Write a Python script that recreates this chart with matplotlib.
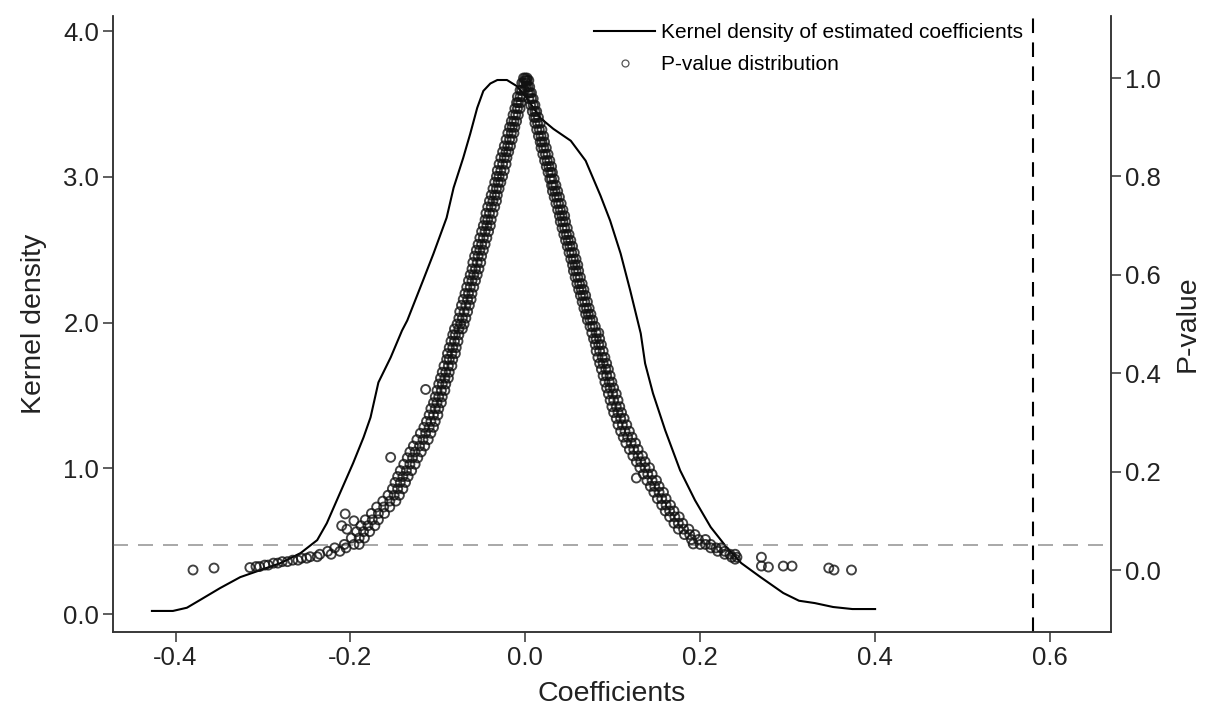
import numpy as np
import matplotlib.pyplot as plt
from matplotlib.lines import Line2D

plt.rcParams['font.family'] = ['Liberation Sans', 'DejaVu Sans']

# kernel density of the estimated coefficients (left axis)
kd_x = [-0.427, -0.403, -0.387, -0.372, -0.349, -0.326, -0.303, -0.280, -0.257, -0.238,
        -0.227, -0.212, -0.197, -0.185, -0.177, -0.168, -0.154, -0.141, -0.135, -0.117,
        -0.105, -0.090, -0.082, -0.071, -0.063, -0.055, -0.048, -0.040, -0.032, -0.021,
        -0.010, 0.000, 0.017, 0.032, 0.052, 0.069, 0.086, 0.097, 0.109, 0.120,
        0.132, 0.137, 0.146, 0.160, 0.177, 0.194, 0.212, 0.230, 0.247, 0.269,
        0.295, 0.313, 0.331, 0.352, 0.374, 0.400]
kd_y = [0.021, 0.021, 0.043, 0.096, 0.178, 0.253, 0.301, 0.349, 0.418, 0.507,
        0.623, 0.829, 1.034, 1.212, 1.349, 1.589, 1.760, 1.945, 2.014, 2.288,
        2.473, 2.719, 2.925, 3.130, 3.295, 3.473, 3.589, 3.640, 3.664, 3.664,
        3.623, 3.555, 3.404, 3.329, 3.247, 3.110, 2.870, 2.699, 2.473, 2.219,
        1.925, 1.719, 1.514, 1.260, 0.986, 0.781, 0.596, 0.459, 0.349, 0.253,
        0.144, 0.091, 0.075, 0.048, 0.034, 0.034]

# p-values, rows are (p, coef, coef, ...)
left_rows = [
    (1.000, -0.002, 0.000, 0.002), (0.990, -0.004, -0.002, 0.001), (0.975, -0.006, -0.004, -0.001),
    (0.962, -0.009, -0.006, -0.003), (0.950, -0.010, -0.008, -0.005), (0.938, -0.012, -0.009, -0.006),
    (0.925, -0.014, -0.011, -0.008), (0.912, -0.016, -0.013, -0.010), (0.900, -0.018, -0.015, -0.012),
    (0.888, -0.020, -0.016, -0.013), (0.875, -0.022, -0.018, -0.015), (0.862, -0.024, -0.020, -0.017),
    (0.850, -0.026, -0.022, -0.019), (0.838, -0.028, -0.024, -0.021), (0.825, -0.030, -0.026, -0.022),
    (0.812, -0.032, -0.028, -0.024), (0.800, -0.033, -0.030, -0.026), (0.788, -0.035, -0.031, -0.028),
    (0.775, -0.037, -0.033, -0.030), (0.762, -0.039, -0.035, -0.032), (0.750, -0.041, -0.037, -0.033),
    (0.738, -0.043, -0.039, -0.035), (0.725, -0.045, -0.041, -0.037), (0.712, -0.046, -0.043, -0.039),
    (0.700, -0.048, -0.044, -0.040), (0.688, -0.050, -0.046, -0.042), (0.675, -0.052, -0.048, -0.044),
    (0.662, -0.054, -0.050, -0.046), (0.650, -0.056, -0.052, -0.048), (0.638, -0.058, -0.054, -0.050),
    (0.625, -0.060, -0.055, -0.051), (0.612, -0.061, -0.057, -0.053), (0.600, -0.063, -0.059, -0.055),
    (0.588, -0.065, -0.061, -0.057), (0.575, -0.067, -0.063, -0.059), (0.562, -0.069, -0.065, -0.061),
    (0.550, -0.071, -0.066, -0.062), (0.538, -0.073, -0.068, -0.064), (0.525, -0.075, -0.070, -0.066),
    (0.512, -0.076, -0.072, -0.068), (0.500, -0.078, -0.074, -0.070),
    (0.490, -0.081, -0.076, -0.072), (0.478, -0.083, -0.080, -0.076), (0.465, -0.085, -0.081, -0.077),
    (0.452, -0.087, -0.083, -0.079), (0.440, -0.089, -0.084, -0.080), (0.428, -0.090, -0.087, -0.083),
    (0.415, -0.093, -0.088, -0.084), (0.402, -0.095, -0.091, -0.087), (0.390, -0.097, -0.092, -0.088),
    (0.378, -0.099, -0.095, -0.091), (0.365, -0.101, -0.096, -0.092), (0.352, -0.103, -0.099, -0.095),
    (0.340, -0.105, -0.101, -0.096), (0.328, -0.108, -0.103, -0.099), (0.315, -0.110, -0.105, -0.100),
    (0.302, -0.113, -0.108, -0.103), (0.290, -0.116, -0.110, -0.105), (0.278, -0.120, -0.114, -0.108),
    (0.265, -0.124, -0.117, -0.111), (0.252, -0.128, -0.121, -0.115), (0.240, -0.132, -0.126, -0.119),
    (0.228, -0.135, -0.129, -0.123), (0.215, -0.139, -0.132, -0.126), (0.202, -0.143, -0.136, -0.130),
    (0.190, -0.146, -0.140, -0.134), (0.178, -0.149, -0.143, -0.137), (0.165, -0.152, -0.146, -0.140),
    (0.152, -0.157, -0.150, -0.144), (0.140, -0.163, -0.155, -0.148), (0.128, -0.170, -0.162, -0.155),
    (0.115, -0.176, -0.168, -0.161), (0.102, -0.183, -0.175, -0.168), (0.090, -0.188, -0.180, -0.172),
    (0.078, -0.193, -0.185, -0.178), (0.065, -0.199, -0.190, -0.184), (0.052, -0.207, -0.196, -0.190),
    (0.045, -0.218, -0.205), (0.038, -0.226, -0.212), (0.032, -0.235, -0.222),
    (0.027, -0.246, -0.238), (0.024, -0.256, -0.250), (0.020, -0.266, -0.260),
    (0.017, -0.278, -0.272), (0.014, -0.288, -0.283), (0.010, -0.298, -0.294),
    (0.007, -0.308, -0.304), (0.005, -0.315),
    (0.367, -0.114), (0.229, -0.154), (0.114, -0.206), (0.090, -0.210),
    (0.083, -0.204), (0.100, -0.196),
]
right_rows = [
    (0.995, 0.000, 0.002, 0.004), (0.982, 0.001, 0.003, 0.005), (0.970, 0.003, 0.005, 0.007),
    (0.958, 0.004, 0.007, 0.009), (0.945, 0.006, 0.009, 0.011), (0.932, 0.008, 0.011, 0.013),
    (0.920, 0.010, 0.012, 0.015), (0.908, 0.011, 0.014, 0.017), (0.895, 0.013, 0.016, 0.019),
    (0.882, 0.015, 0.018, 0.021), (0.870, 0.017, 0.019, 0.022), (0.858, 0.018, 0.021, 0.024),
    (0.845, 0.020, 0.023, 0.026), (0.832, 0.022, 0.025, 0.028), (0.820, 0.024, 0.027, 0.030),
    (0.808, 0.026, 0.029, 0.031), (0.795, 0.028, 0.030, 0.033), (0.782, 0.030, 0.032, 0.035),
    (0.770, 0.031, 0.034, 0.037), (0.758, 0.033, 0.036, 0.039), (0.745, 0.035, 0.038, 0.041),
    (0.732, 0.037, 0.040, 0.043), (0.720, 0.039, 0.042, 0.045), (0.708, 0.040, 0.043, 0.046),
    (0.695, 0.042, 0.045, 0.048), (0.682, 0.044, 0.047, 0.050), (0.670, 0.046, 0.049, 0.052),
    (0.658, 0.048, 0.051, 0.054), (0.645, 0.050, 0.053, 0.056), (0.632, 0.052, 0.055, 0.058),
    (0.620, 0.054, 0.057, 0.060), (0.608, 0.055, 0.058, 0.061), (0.595, 0.057, 0.060, 0.063),
    (0.582, 0.059, 0.062, 0.065), (0.570, 0.061, 0.064, 0.067), (0.558, 0.063, 0.066, 0.069),
    (0.545, 0.065, 0.068, 0.071), (0.532, 0.067, 0.070, 0.073), (0.520, 0.069, 0.072, 0.075),
    (0.508, 0.071, 0.074, 0.077),
    (0.495, 0.074, 0.077, 0.080), (0.482, 0.076, 0.081, 0.084), (0.470, 0.078, 0.081, 0.085),
    (0.458, 0.080, 0.084, 0.087), (0.445, 0.081, 0.085, 0.089), (0.432, 0.083, 0.088, 0.091),
    (0.420, 0.085, 0.089, 0.093), (0.408, 0.087, 0.092, 0.095), (0.395, 0.089, 0.093, 0.097),
    (0.382, 0.091, 0.096, 0.099), (0.370, 0.093, 0.097, 0.101), (0.358, 0.095, 0.100, 0.104),
    (0.345, 0.097, 0.101, 0.106), (0.332, 0.099, 0.104, 0.108), (0.320, 0.101, 0.106, 0.110),
    (0.308, 0.104, 0.109, 0.113), (0.295, 0.106, 0.111, 0.116), (0.282, 0.109, 0.114, 0.119),
    (0.270, 0.112, 0.117, 0.122), (0.258, 0.115, 0.121, 0.126), (0.245, 0.119, 0.124, 0.129),
    (0.232, 0.123, 0.129, 0.134), (0.220, 0.127, 0.132, 0.137), (0.208, 0.131, 0.137, 0.142),
    (0.195, 0.135, 0.140, 0.145), (0.182, 0.139, 0.145, 0.150), (0.170, 0.143, 0.148, 0.153),
    (0.158, 0.147, 0.153, 0.158), (0.145, 0.151, 0.156, 0.161), (0.132, 0.156, 0.161, 0.166),
    (0.120, 0.160, 0.165, 0.170), (0.108, 0.165, 0.171, 0.176), (0.095, 0.170, 0.175, 0.180),
    (0.083, 0.175, 0.181, 0.187), (0.072, 0.182, 0.188, 0.194), (0.062, 0.190, 0.198, 0.206),
    (0.052, 0.200, 0.206, 0.212), (0.045, 0.212, 0.218, 0.224), (0.038, 0.220, 0.228),
    (0.032, 0.228, 0.234, 0.240), (0.026, 0.236, 0.242), (0.022, 0.240),
    (0.187, 0.127), (0.053, 0.192),
]
tail_coef = [-0.380, -0.356, 0.270, 0.270, 0.278, 0.295, 0.305, 0.347, 0.353, 0.373]
tail_p = [0.000, 0.004, 0.026, 0.008, 0.006, 0.008, 0.008, 0.004, 0.000, 0.000]

p_cut = 0.05
coef_line = 0.581

pv_coef, pv_p = list(tail_coef), list(tail_p)
for p, *cs in left_rows + right_rows:
    for c in cs:
        pv_coef.append(c)
        pv_p.append(p)

fig = plt.figure(figsize=(12.1, 7.09), dpi=100)
ax = fig.add_axes([0.0934, 0.1086, 0.8248, 0.8688])
ax2 = ax.twinx()

ax.plot(kd_x, kd_y, color='black', lw=1.5, zorder=3)
ax.axvline(coef_line, color='black', lw=1.5, dashes=(7, 4.5))

ax2.axhline(p_cut, color='#999999', lw=1.2, dashes=(9, 6))
ax2.scatter(pv_coef, pv_p, s=42, facecolors='none', edgecolors='#111111',
            linewidths=1.35, alpha=0.8, zorder=4)

ax.set_xlim(-0.4715, 0.6698)
ax.set_ylim(-0.1235, 4.103)
ax2.set_ylim(-0.126, 1.126)
ax.set_xticks([-0.4, -0.2, 0.0, 0.2, 0.4, 0.6])
ax.set_xticklabels(['-0.4', '-0.2', '0.0', '0.2', '0.4', '0.6'])
ax.set_yticks([0, 1, 2, 3, 4])
ax.set_yticklabels(['0.0', '1.0', '2.0', '3.0', '4.0'])
ax2.set_yticks([0.0, 0.2, 0.4, 0.6, 0.8, 1.0])
ax2.set_yticklabels(['0.0', '0.2', '0.4', '0.6', '0.8', '1.0'])

for a in (ax, ax2):
    a.spines['top'].set_visible(False)
    for s in a.spines.values():
        s.set_color('#333333')
        s.set_linewidth(1.1)
    a.tick_params(direction='out', length=7, width=1.1, color='#333333',
                  labelsize=18.5, labelcolor='#222222', pad=3)

ax.set_xlabel('Coefficients', fontsize=20.5, color='#222222', labelpad=8)
ax.set_ylabel('Kernel density', fontsize=20.5, color='#222222', labelpad=12)
ax2.set_ylabel('P-value', fontsize=20.5, color='#222222', labelpad=10)

handles = [Line2D([], [], color='black', lw=1.5),
           Line2D([], [], marker='o', ls='', mfc='none', mec='#555555', ms=5, mew=0.9)]
ax2.legend(handles, ['Kernel density of estimated coefficients', 'P-value distribution'],
           loc='upper left', bbox_to_anchor=(0.474, 1.002), frameon=False, fontsize=15,
           handlelength=2.9, handletextpad=0.3, labelspacing=0.64, borderaxespad=0)

fig.savefig('out.png', dpi=100)
